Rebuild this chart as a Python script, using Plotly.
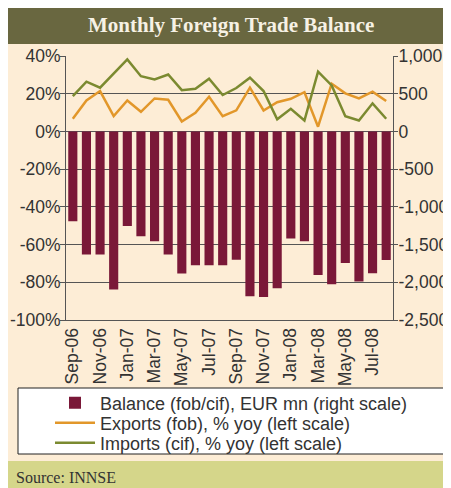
import plotly.graph_objects as go

months = ["Sep-06", "Oct-06", "Nov-06", "Dec-06", "Jan-07", "Feb-07", "Mar-07", "Apr-07",
          "May-07", "Jun-07", "Jul-07", "Aug-07", "Sep-07", "Oct-07", "Nov-07", "Dec-07",
          "Jan-08", "Feb-08", "Mar-08", "Apr-08", "May-08", "Jun-08", "Jul-08", "Aug-08"]
balance = [-1190, -1630, -1630, -2095, -1255, -1390, -1455, -1630, -1885, -1775, -1775, -1775,
           -1700, -2185, -2195, -2080, -1420, -1455, -1905, -2025, -1745, -1990, -1880, -1705]
exports = [6.7, 16.4, 21.4, 8.1, 16.4, 10.4, 17.5, 16.8, 5.3, 9.9, 18.4, 8.1,
           11.2, 23.2, 11.1, 15.5, 17.3, 20.8, 2.5, 25.3, 20.2, 17.5, 21.1, 16.1]
imports = [18.7, 26.4, 23.2, 30.6, 38.2, 29.3, 27.6, 30.2, 21.9, 22.6, 28.0, 19.3,
           23.0, 28.5, 21.4, 6.4, 12.0, 5.8, 31.7, 24.4, 8.1, 5.8, 14.9, 6.7]
left_ticks = [40, 20, 0, -20, -40, -60, -80, -100]
left_labels = ["40%", "20%", "0%", "-20%", "-40%", "-60%", "-80%", "-100%"]
right_ticks = [1000, 500, 0, -500, -1000, -1500, -2000, -2500]
right_labels = ["1,000", "500", "0", "-500", "-1,000", "-1,500", "-2,000", "-2,500"]

OFF = 8  # page body margin offset
W, H = 451 - OFF, 488 - OFF
L, R, T, B = 66 - OFF, 393 - OFF, 56 - OFF, 320 - OFF  # plot area in figure pixels

def px(x):  # x in reference pixels -> paper
    return (x - OFF - L) / (R - L)

def py(y):  # y in reference pixels -> paper
    return (B - (y - OFF)) / (B - T)

CREAM = "#fdedd6"
OLIVE = "#696740"
SRC = "#d5d68a"
MAROON = "#7a1838"
ORANGE = "#e2972a"
GREEN = "#7b8a30"
TXT = "#333333"
GRID = "#555555"

fig = go.Figure()
fig.add_trace(go.Bar(x=months, y=balance, yaxis="y2", marker=dict(color=MAROON, line=dict(width=0)),
                     name="Balance (fob/cif), EUR mn (right scale)", legend="legend"))
fig.add_trace(go.Scatter(x=months, y=exports, yaxis="y", mode="lines",
                         line=dict(color=ORANGE, width=2.5), name="Exports (fob), % yoy (left scale)",
                         legend="legend2"))
fig.add_trace(go.Scatter(x=months, y=imports, yaxis="y", mode="lines",
                         line=dict(color=GREEN, width=2.5), name="Imports (cif), % yoy (left scale)",
                         legend="legend3"))

font = dict(family="Liberation Sans, Arial, sans-serif", size=17.5, color=TXT)

shapes = [
    dict(type="rect", xref="paper", yref="paper", x0=px(449), x1=px(460), y0=py(-10), y1=py(500),
         fillcolor="white", line=dict(width=0), layer="below"),
    dict(type="rect", xref="paper", yref="paper", x0=px(0), x1=px(460), y0=py(-10), y1=py(44),
         fillcolor=OLIVE, line=dict(width=0), layer="below"),
    dict(type="rect", xref="paper", yref="paper", x0=px(0), x1=px(449), y0=py(461), y1=py(500),
         fillcolor=SRC, line=dict(width=0), layer="below"),
    dict(type="rect", xref="paper", yref="paper", x0=px(18), x1=px(444), y0=py(388), y1=py(454),
         fillcolor="white", line=dict(width=1, color="#222222"), layer="below"),
]

annotations = [
    dict(text="<b>Monthly Foreign Trade Balance</b>", xref="paper", yref="paper", x=px(231), y=py(25),
         xanchor="center", yanchor="middle", showarrow=False,
         font=dict(family="Liberation Serif, Times New Roman, serif", size=21, color="#f6f1e4")),
    dict(text="Source: INNSE", xref="paper", yref="paper", x=px(14), y=py(477),
         xanchor="left", yanchor="middle", showarrow=False,
         font=dict(family="Liberation Serif, Times New Roman, serif", size=16, color=TXT)),
]

leg_common = dict(xanchor="left", yanchor="middle", bgcolor="rgba(0,0,0,0)", borderwidth=0,
                  font=dict(size=18, color=TXT, family="Liberation Sans, Arial, sans-serif"),
                  itemwidth=40)

fig.update_layout(
    width=W, height=H,
    margin=dict(l=L, r=W - R, t=T, b=H - B, pad=0, autoexpand=False),
    paper_bgcolor=CREAM, plot_bgcolor=CREAM,
    font=font,
    bargap=0.33,
    showlegend=True,
    legend=dict(x=px(50), y=py(403), **leg_common),
    legend2=dict(x=px(50), y=py(423), **leg_common),
    legend3=dict(x=px(50), y=py(443), **leg_common),
    xaxis=dict(type="category", categoryorder="array", categoryarray=months,
               tickvals=months[::2], ticktext=months[::2], tickangle=-90,
               showline=True, linecolor=GRID, linewidth=1, ticks="", showgrid=False,
               tickfont=font),
    yaxis=dict(range=[-100, 40], tickvals=left_ticks, ticktext=left_labels, side="left",
               showline=True, linecolor=GRID, linewidth=1, ticks="outside", ticklen=5,
               tickcolor=GRID, showgrid=True, gridcolor=GRID, gridwidth=1, zeroline=False,
               tickfont=font, ticklabelstandoff=-4),
    yaxis2=dict(range=[-2500, 1000], tickvals=right_ticks, ticktext=right_labels, overlaying="y",
                side="right", showline=True, linecolor=GRID, linewidth=1, ticks="outside",
                ticklen=4, tickcolor=GRID, showgrid=False, zeroline=False, tickfont=font,
                ticklabelstandoff=-3),
    shapes=shapes,
    annotations=annotations,
)

fig.write_html("out.html")
